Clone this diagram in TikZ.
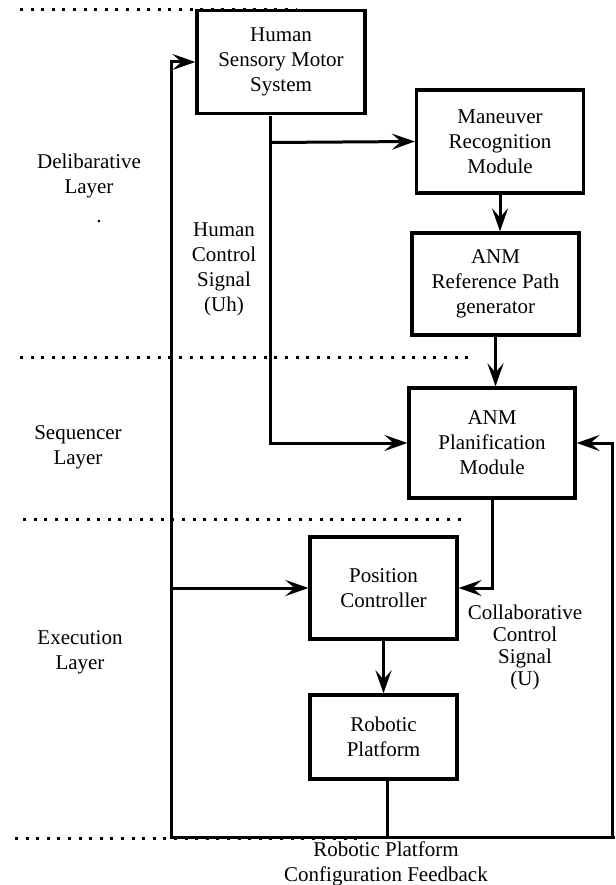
\documentclass[tikz,border=0pt]{standalone}
\usepackage{fontspec}
\setmainfont{Liberation Serif}
\newfontfamily\serf{Liberation Serif}
\usetikzlibrary{arrows.meta}
\begin{document}
\begin{tikzpicture}[x=1pt,y=-1pt,
  every node/.style={font=\serf\fontsize{21}{25}\selectfont, align=center, inner sep=0pt},
  blk/.style={draw, line width=3.2pt, minimum width=#1},
  conn/.style={line width=3pt, -{Stealth[length=23pt,width=16pt,inset=9pt]}},
  plain/.style={line width=3pt},
  sep/.style={line width=3pt, dash pattern=on 3pt off 7.6pt}]
\useasboundingbox (0,0) rectangle (615,885);
% layer separators
\draw[sep] (20,9.5) -- (296,9.5);
\draw[sep] (20,357) -- (472,357);
\draw[sep] (23,519) -- (465,519);
\draw[sep] (15,838) -- (357,838);
% blocks
\node[blk=168pt, minimum height=103pt] (hum) at (281,62) {Human\\Sensory Motor\\System};
\node[blk=167pt, minimum height=103pt] (man) at (500,141.5) {Maneuver\\Recognition\\Module};
\node[blk=167pt, minimum height=102pt] (ref) at (495.5,284) {ANM\\Reference Path\\generator};
\node[blk=166pt, minimum height=110pt] (pla) at (492,443) {ANM\\Planification\\Module};
\node[blk=147pt, minimum height=102pt] (pos) at (383.5,588) {Position\\Controller};
\node[blk=147pt, minimum height=84pt] (rob) at (383.5,737) {Robotic\\Platform};
% labels
\node (dl) at (89,176) {Delibarative\\Layer};
\node (dot) at (99,222) {.};
\node (sl) at (78,447) {Sequencer\\Layer};
\node (el) at (80,652) {Execution\\Layer};
\node (hcs) at (224,269) {Human\\Control\\Signal\\(Uh)};
\node[font=\serf\fontsize{21}{22}\selectfont] (ccs) at (525,647) {Collaborative\\Control\\Signal\\(U)};
\node (fb) at (386,863.5) {Robotic Platform\\Configuration Feedback};
% connector coordinates
\coordinate (hs) at (270.5,116);
\coordinate (hb) at (270.5,142.5);
\coordinate (rb) at (387.5,837);
\coordinate (bl) at (171,837);
\coordinate (br) at (612,837);
% connectors
\draw[conn] (hs) |- (pla.west);
\draw[conn] (hb) -- (man.west);
\draw[conn] (man.south) -- (man.south |- ref.north);
\draw[conn] (ref.south) -- (ref.south |- pla.north);
\draw[conn] (pla.south) |- (pos.east);
\draw[conn] (pos.south) -- (pos.south |- rob.north);
\draw[plain] (rob.south -| rb) -- (rb);
\draw[conn] (rb) -- (bl) |- (hum.west);
\draw[plain] (rb) -- (615,837);
\draw[conn] (br) |- (pla.east);
\draw[conn] (bl |- pos.west) -- (pos.west);
\end{tikzpicture}
\end{document}
